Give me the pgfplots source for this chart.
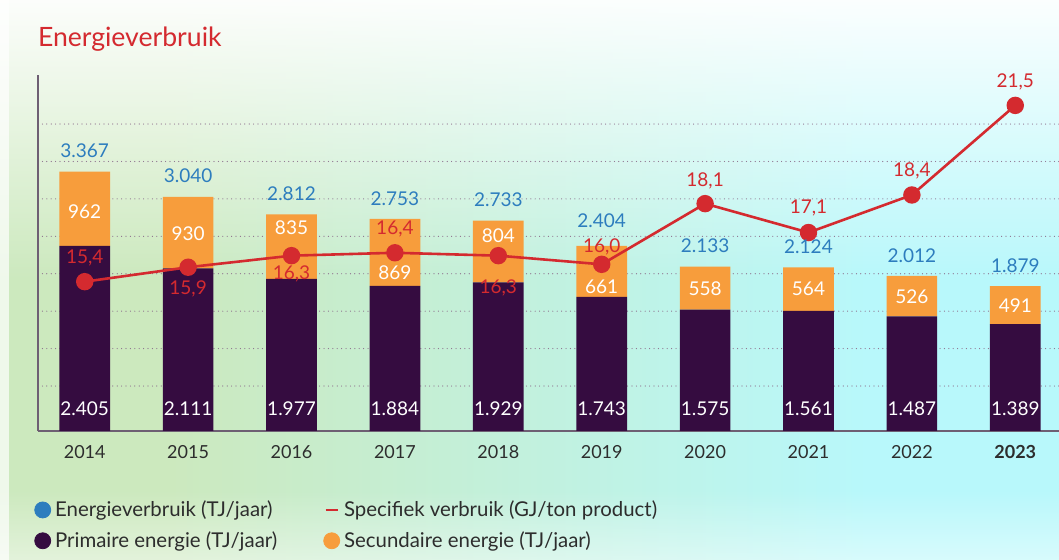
\documentclass[border=0pt]{standalone}
\usepackage{fontspec}
\setmainfont{Lato}
\usepackage{pgfplots}
\pgfplotsset{compat=1.18}
\usepackage{pgfplotstable}
\usetikzlibrary{fadings}

\definecolor{cPurple}{RGB}{53,12,64}
\definecolor{cOrange}{RGB}{247,157,60}
\definecolor{cRed}{RGB}{212,42,47}
\definecolor{cBlue}{RGB}{45,125,190}
\definecolor{cText}{RGB}{45,45,45}
\definecolor{cGrid}{RGB}{140,110,140}
\definecolor{cAxis}{RGB}{110,95,115}
\definecolor{bgG}{RGB}{204,233,190}
\definecolor{bgC}{RGB}{184,248,251}

\pgfdeclarehorizontalshading{bgsh}{100bp}{color(0bp)=(bgG); color(33bp)=(bgG); color(66bp)=(bgC); color(100bp)=(bgC)}

% energy use per year (TJ/jaar)
\pgfplotstableread{
x prim sec tot
0 2405 962 3367
1 2111 930 3040
2 1977 835 2812
3 1884 869 2753
4 1929 804 2733
5 1743 661 2404
6 1575 558 2133
7 1561 564 2124
8 1487 526 2012
9 1389 491 1879
}\energie

% specific use (GJ/ton product), label positions in the same units
\pgfplotstableread{
x v ly lab
0 15.4 16.23 15,4
1 15.9 15.15 15,9
2 16.3 15.67 16,3
3 16.4 17.22 16,4
4 16.3 15.18 16,3
5 16.0 16.62 16,0
6 18.1 18.88 18,1
7 17.1 17.95 17,1
8 18.4 19.23 18,4
9 21.5 22.31 21,5
}\specifiek

\pgfplotstableread{
x ytot ltot yprim lprim ysec lsec
0 3637 3.367 286 2.405 2850 962
1 3310 3.040 286 2.111 2560 930
2 3082 2.812 286 1.977 2640 835
3 3023 2.753 286 1.884 2052 869
4 3003 2.733 286 1.929 2532 804
5 2730 2.404 286 1.743 1870 661
6 2403 2.133 286 1.575 1854 558
7 2394 2.124 286 1.561 1842 564
8 2282 2.012 286 1.487 1750 526
9 2149 1.879 286 1.389 1634 491
}\labels

\pgfplotsset{
  base/.style={
    width=510.5pt, height=178pt, scale only axis,
    at={(19pt,64.5pt)}, anchor=south west,
    xmin=-0.452, xmax=9.423,
  },
  lbl/.style={
    draw=none, mark=none, forget plot,
    nodes near coords, point meta=explicit symbolic,
    every node near coord/.append style={anchor=center, font=\fontsize{9.5}{11}\selectfont, #1},
  },
}

\begin{document}
\begin{tikzpicture}
\useasboundingbox (0,0) rectangle (529.5pt,280pt);
\shade[shading=bgsh] (0,0) rectangle (529.5pt,280pt);
\fill[white, opacity=0.95, path fading=south] (0,140pt) rectangle (529.5pt,280pt);
\fill[white, opacity=0.45, path fading=north] (0,0) rectangle (529.5pt,35pt);
\fill[white, opacity=0.7] (0,0) rectangle (4.5pt,280pt);

\node[anchor=base west, text=cRed, font=\fontsize{13.3}{15}\selectfont, inner sep=0pt] at (18.8pt,256.5pt) {Energieverbruik};

% stacked bars
\begin{axis}[base,
  ymin=0, ymax=4623,
  ybar stacked, bar width=0.49,
  xtick={0,...,9},
  xticklabels={2014,2015,2016,2017,2018,2019,2020,2021,2022,\textbf{2023}},
  xticklabel style={font=\fontsize{9}{11}\selectfont, text=cText, yshift=-3.5pt},
  ytick={584,1070,1556,2042,2528,3014,3500,3986},
  yticklabels={},
  major tick length=0pt,
  ymajorgrids,
  grid style={cGrid, line width=0.6pt, line cap=round, dash pattern=on 0pt off 2.2pt},
  axis x line*=bottom, axis y line*=left,
  axis line style={cAxis, line width=0.8pt, -},
]
\addplot[fill=cPurple, draw=none] table[x=x, y=prim] {\energie};
\addplot[fill=cOrange, draw=none] table[x=x, y=sec] {\energie};
\end{axis}

% specific use line
\begin{axis}[base, hide axis, ymin=10.233, ymax=22.552, clip=false]
\addplot[cRed, line width=1.3pt, mark=*, mark size=3.7pt, mark options={fill=cRed, draw=cRed}] table[x=x, y=v] {\specifiek};
\addplot[lbl={text=cRed}] table[x=x, y=ly, meta=lab] {\specifiek};
\end{axis}

% value labels and legend
\begin{axis}[base, hide axis, ymin=0, ymax=4623, clip=false,
  legend columns=2,
  legend cell align=left,
  legend style={draw=none, fill=none, at={(-0.004,-0.183)}, anchor=north west,
    inner sep=0pt,
    font=\fontsize{10.2}{12}\selectfont, text=cText, row sep=2pt,
    /tikz/every odd column/.append style={column sep=0pt},
    /tikz/column 2/.style={column sep=21pt}},
]
\addlegendimage{legend image code/.code={\fill[cBlue] (3pt,0pt) circle (4pt);}}
\addlegendentry{Energieverbruik (TJ/jaar)}
\addlegendimage{legend image code/.code={\draw[cRed, line width=1.3pt] (0pt,0pt) -- (6pt,0pt);}}
\addlegendentry{Specifiek verbruik (GJ/ton product)}
\addlegendimage{legend image code/.code={\fill[cPurple] (3pt,0pt) circle (4pt);}}
\addlegendentry{Primaire energie (TJ/jaar)}
\addlegendimage{legend image code/.code={\fill[cOrange] (3pt,0pt) circle (4pt);}}
\addlegendentry{Secundaire energie (TJ/jaar)}

\addplot[lbl={text=cBlue}] table[x=x, y=ytot, meta=ltot] {\labels};
\addplot[lbl={text=white}] table[x=x, y=yprim, meta=lprim] {\labels};
\addplot[lbl={text=white}] table[x=x, y=ysec, meta=lsec] {\labels};
\end{axis}
\end{tikzpicture}
\end{document}
